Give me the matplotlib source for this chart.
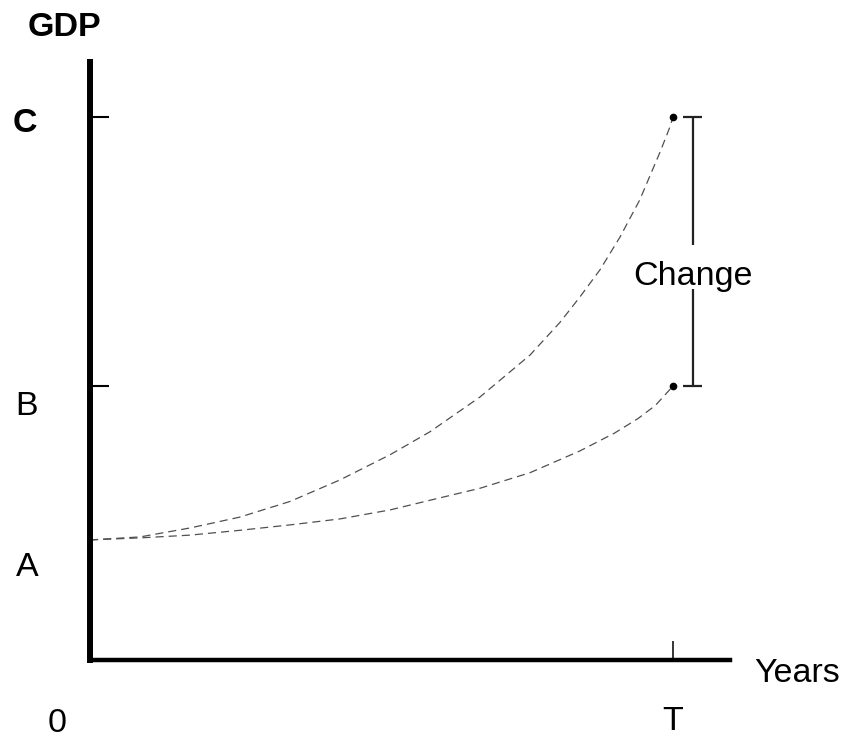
import matplotlib.pyplot as plt

plt.rcParams["font.family"] = ["Liberation Sans", "DejaVu Sans"]

W, H = 850, 739

# values (GDP in arbitrary units, A = 100)
T_YEAR = 10
level_names = ["A", "B", "C"]
level_values = [100, 228, 452]

years_upper = [0, 0.86, 1.72, 2.57, 3.43, 4.29, 5.15, 5.83, 6.69, 7.55,
               8.06, 8.40, 8.75, 9.09, 9.43, 9.78, 9.95, 10]
gdp_upper = [100, 102.5, 110, 119, 132, 150, 171, 190, 219, 254,
             281, 302, 325, 352, 383, 423, 444, 452]

years_lower = [0, 0.86, 1.72, 2.57, 3.43, 4.29, 5.15, 5.83, 6.69, 7.55,
               8.40, 9.00, 9.40, 9.70, 10]
gdp_lower = [100, 101.7, 104, 108, 112.5, 117.5, 125, 133, 143, 156,
             174, 189, 201, 212, 228]


def px(x, y):
    # pixel position in the image -> figure fraction
    return x / W, 1 - y / H


fig = plt.figure(figsize=(W / 100, H / 100), dpi=100)
ax = fig.add_axes([90 / W, 1 - 660 / H, 640 / W, 598 / H])
ax.set_xlim(0, 10.98)
ax.set_ylim(0, 498)

for side in ("top", "right"):
    ax.spines[side].set_visible(False)
ax.spines["left"].set_linewidth(4.3)
ax.spines["bottom"].set_linewidth(3.2)
for side in ("left", "bottom"):
    ax.spines[side].set_capstyle("projecting")

ax.set_xticks([T_YEAR])
ax.set_yticks(level_values[1:])
ax.tick_params(axis="y", direction="in", length=14, width=1.5, labelleft=False)
ax.tick_params(axis="x", direction="in", length=14, width=1.1, labelbottom=False)

for xs, ys in ((years_upper, gdp_upper), (years_lower, gdp_lower)):
    ax.plot(xs, ys, color="#505050", lw=0.9, dashes=(6.5, 4), clip_on=False)

ax.plot([T_YEAR, T_YEAR], level_values[1:], "o", color="black", ms=4.5,
        clip_on=False)

# bracket showing the change between B and C
bx = 10.34
low, high = level_values[1], level_values[2]
ax.vlines(bx, high - 106, high, color="#222222", lw=1.6)
ax.vlines(bx, low, high - 143, color="#222222", lw=1.6)
ax.hlines([low, high], 10.17, 10.5, color="#222222", lw=1.6)
ax.text(bx, high - 133, "Change", ha="center", va="center", fontsize=24.5)

fs = 24.5
fig.text(*px(64, 28), "GDP", ha="center", va="center", fontsize=fs,
         fontweight="bold")
fig.text(*px(25, 124), "C", ha="center", va="center", fontsize=fs,
         fontweight="bold")
fig.text(*px(27, 407), "B", ha="center", va="center", fontsize=fs)
fig.text(*px(27, 567), "A", ha="center", va="center", fontsize=fs)
fig.text(*px(57, 724), "0", ha="center", va="center", fontsize=fs)
fig.text(*px(673, 722), "T", ha="center", va="center", fontsize=fs)
fig.text(*px(754, 673), "Years", ha="left", va="center", fontsize=fs)

fig.savefig("out.png", dpi=100)
